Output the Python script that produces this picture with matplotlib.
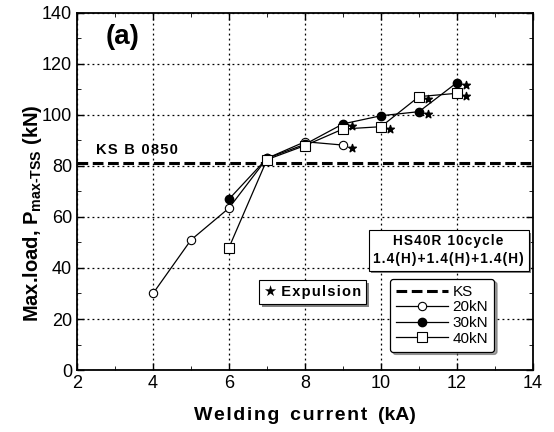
import matplotlib
matplotlib.use("Agg")
import matplotlib.pyplot as plt
import matplotlib.patheffects as pe
from matplotlib.ticker import MultipleLocator

plt.rcParams['font.family'] = ['Liberation Sans', 'DejaVu Sans']
plt.rcParams['mathtext.fontset'] = 'custom'
plt.rcParams['mathtext.bf'] = 'Liberation Sans:bold'
plt.rcParams['mathtext.rm'] = 'Liberation Sans:bold'

# data
x_20kn = [4, 5, 6, 7, 8, 9]
y_20kn = [30, 51, 63.5, 83, 89.5, 88.2]
x_30kn = [6, 7, 8, 9, 10, 11, 12]
y_30kn = [67, 83, 88.5, 96.5, 99.7, 101.3, 112.7]
x_40kn = [6, 7, 8, 9, 10, 11, 12]
y_40kn = [48, 82.5, 88, 94.5, 95.4, 107.2, 108.5]
ks_level = 81

# expulsion points (star drawn just to the right of them)
exp_x = [9, 9, 10, 11, 11, 12, 12]
exp_y = [88.2, 96.5, 95.4, 101.3, 107.2, 112.7, 108.5]


def spaced(s):
    # the original labels are letter-spaced
    return '\u200a'.join(s)


fig = plt.figure(figsize=(5.54, 4.32), dpi=100)
ax = fig.add_axes([0.139, 0.1435, 0.823, 0.8265])

ax.axhline(ks_level, color='black', lw=2.2, ls=(0, (3.5, 1.5)), label='KS', zorder=3)
ax.plot(x_20kn, y_20kn, color='black', lw=0.9, marker='o', ms=6,
        mfc='white', mec='black', mew=0.8, label='20kN', zorder=4)
ax.plot(x_30kn, y_30kn, color='black', lw=0.9, marker='o', ms=6,
        mfc='black', mec='black', label='30kN', zorder=4)
ax.plot(x_40kn, y_40kn, color='black', lw=0.9, marker='s', ms=6.5,
        mfc='white', mec='black', mew=0.8, label='40kN', zorder=4)
ax.scatter([v + 0.25 for v in exp_x], [v - 1 for v in exp_y], marker='*', s=34,
           color='black', zorder=5)

ax.set_xlim(2, 14)
ax.set_ylim(0, 140)
ax.xaxis.set_major_locator(MultipleLocator(2))
ax.xaxis.set_minor_locator(MultipleLocator(1))
ax.yaxis.set_major_locator(MultipleLocator(20))
ax.yaxis.set_minor_locator(MultipleLocator(10))
ax.tick_params(which='both', direction='in', top=True, right=True, labelsize=13)
ax.tick_params(which='major', length=5, width=1)
ax.tick_params(which='minor', length=3)
ax.grid(True, which='major', color='black', ls=(0, (1.5, 2.5)), lw=0.9)
for s in ax.spines.values():
    s.set_linewidth(1.3)

ax.set_xlabel(spaced('Welding') + '  ' + spaced('current') + '  (kA)',
              fontsize=14, fontweight='bold', labelpad=11)
ax.set_ylabel('Max.load, P$_{\\mathbf{max\u2010TSS}}$ (kN)', fontsize=14.5,
              fontweight='bold')
ax.yaxis.set_label_coords(-0.072, 0.44)

ax.text(3.2, 130.5, '(a)', fontsize=20, fontweight='bold', ha='center', va='center')
ax.text(2.5, 83.5, spaced('KS B 0850'), fontsize=10.5, fontweight='bold', va='bottom')

shadow = [pe.SimplePatchShadow(offset=(2, -2), shadow_rgbFace='0.45', alpha=0.9),
          pe.Normal()]
box = dict(boxstyle='square,pad=0.35', fc='white', ec='black', lw=0.8)
t1 = ax.text(11.78, 47, spaced('HS40R 10cycle') + '\n' + spaced('1.4(H)+1.4(H)+1.4(H)'),
             fontsize=9.8, fontweight='bold', ha='center', va='center', bbox=box,
             linespacing=1.3, zorder=6)
t1.get_bbox_patch().set_path_effects(shadow)
t2 = ax.text(8.2, 30.6, '\u2605 ' + spaced('Expulsion'), fontsize=10.5,
             fontweight='bold', ha='center', va='center', bbox=box, zorder=6)
t2.get_bbox_patch().set_path_effects(shadow)

leg = ax.legend(loc='lower right', bbox_to_anchor=(0.932, 0.03), fontsize=11,
                frameon=True, fancybox=True, shadow=True, edgecolor='black',
                handlelength=3.4, borderpad=0.4, labelspacing=0.1,
                handletextpad=0.3)
leg.get_frame().set_linewidth(0.9)

fig.savefig('out.png', dpi=100)
